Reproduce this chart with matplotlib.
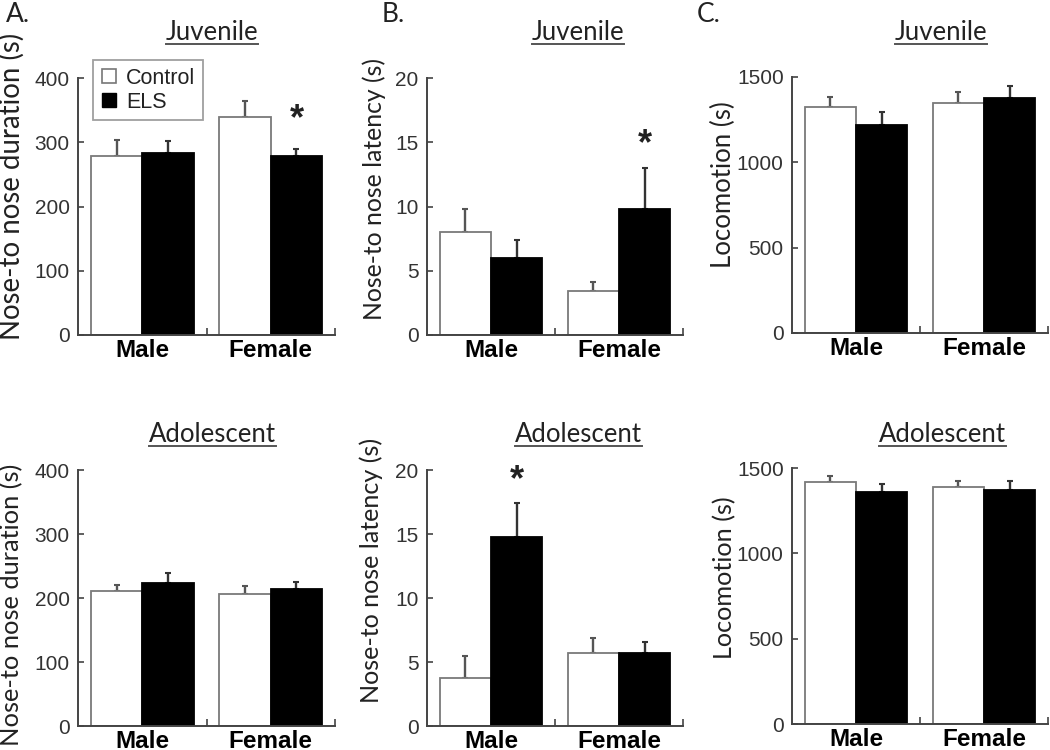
import matplotlib
matplotlib.use("Agg")
import matplotlib.pyplot as plt
from matplotlib.lines import Line2D

# ---- data ----
sexes = ["Male", "Female"]
groups = ["Control", "ELS"]

# Juvenile
dur_juv_ctrl = [278, 339]
dur_juv_ctrl_err = [26, 25]
dur_juv_els = [283, 279]
dur_juv_els_err = [19, 11]

lat_juv_ctrl = [8.0, 3.4]
lat_juv_ctrl_err = [1.77, 0.7]
lat_juv_els = [6.0, 9.84]
lat_juv_els_err = [1.42, 3.16]

loc_juv_ctrl = [1324, 1350]
loc_juv_ctrl_err = [61, 62]
loc_juv_els = [1217, 1379]
loc_juv_els_err = [78, 69]

# Adolescent
dur_ado_ctrl = [211, 206]
dur_ado_ctrl_err = [9, 13]
dur_ado_els = [223, 214]
dur_ado_els_err = [15.5, 11.5]

lat_ado_ctrl = [3.72, 5.68]
lat_ado_ctrl_err = [1.78, 1.17]
lat_ado_els = [14.74, 5.73]
lat_ado_els_err = [2.71, 0.81]

loc_ado_ctrl = [1418, 1387]
loc_ado_ctrl_err = [37, 35]
loc_ado_els = [1359, 1373]
loc_ado_els_err = [49, 49]

# significance stars: (sex index, y value of star centre)
stars_dur_juv = [(1, 351)]
stars_lat_juv = [(1, 15.6)]
stars_lat_ado = [(0, 19.9)]

SANS = "Liberation Sans"
HUMAN = "Lato"
TXT = "#222222"
AXC = "#444444"

fig = plt.figure(figsize=(10.5, 7.5), dpi=100)
W, H = 1050.0, 750.0
ylabels = []  # (label artist, target length in px)


def panel(rect, ctrl, ctrl_err, els, els_err, ymax, yticks, ylabel,
          lab_x, lab_y, lab_len, stars=()):
    l, t, r, b = rect
    ax = fig.add_axes([l / W, 1 - b / H, (r - l) / W, (b - t) / H])
    pos_c = [0.3, 1.3]
    pos_e = [0.7, 1.7]
    ax.bar(pos_c, ctrl, width=0.4, color="white", edgecolor="#7a7a7a", linewidth=1.3, zorder=2)
    ax.bar(pos_e, els, width=0.4, color="black", edgecolor="black", linewidth=1.3, zorder=2)
    ax.errorbar(pos_c, ctrl, yerr=[[0, 0], ctrl_err], fmt="none", ecolor="#555555",
                elinewidth=1.7, capsize=2.5, capthick=1.5, zorder=1)
    ax.errorbar(pos_e, els, yerr=[[0, 0], els_err], fmt="none", ecolor="#333333",
                elinewidth=1.7, capsize=2.5, capthick=1.5, zorder=1)
    for si, yv in stars:
        ax.annotate("*", (pos_e[si], yv), xytext=(0, -7), textcoords="offset points",
                    ha="center", va="center", fontsize=26, fontweight="bold",
                    family=SANS, color=TXT, annotation_clip=False)
    ax.set_xlim(0, 2)
    ax.set_ylim(0, ymax)
    for s in ["top", "right"]:
        ax.spines[s].set_visible(False)
    for s in ["left", "bottom"]:
        ax.spines[s].set_color(AXC)
        ax.spines[s].set_linewidth(1.4)
    ax.set_yticks(yticks)
    ax.set_yticklabels([str(v) for v in yticks], family=SANS, fontsize=15, color="#333333")
    ax.tick_params(axis="y", direction="in", length=4, width=1.2, color=AXC, pad=6)
    ax.set_xticks([0.5, 1.5])
    ax.set_xticklabels(sexes, family=SANS, fontsize=17.5, fontweight="bold", color="black")
    ax.tick_params(axis="x", length=0, pad=3)
    ax.set_xticks([1.0, 2.0], minor=True)
    ax.tick_params(axis="x", which="minor", direction="in", length=5, width=1.2, color=AXC)
    ax.set_ylabel(ylabel, family=HUMAN, fontsize=18, color=TXT)
    ax.yaxis.set_label_coords((lab_x - l) / (r - l), (b - lab_y) / (b - t))
    ylabels.append((ax.yaxis.label, lab_len))
    return ax


ax_a1 = panel((78, 78, 335, 335), dur_juv_ctrl, dur_juv_ctrl_err, dur_juv_els, dur_juv_els_err,
              400, [0, 100, 200, 300, 400], "Nose-to nose duration (s)", 25, 186, 306, stars_dur_juv)
ax_b1 = panel((427, 78, 683, 335), lat_juv_ctrl, lat_juv_ctrl_err, lat_juv_els, lat_juv_els_err,
              20, [0, 5, 10, 15, 20], "Nose-to nose latency (s)", 386, 189, 262, stars_lat_juv)
ax_c1 = panel((792, 77, 1048, 333), loc_juv_ctrl, loc_juv_ctrl_err, loc_juv_els, loc_juv_els_err,
              1500, [0, 500, 1000, 1500], "Locomotion (s)", 736, 185, 166)
ax_a2 = panel((78, 470, 335, 726), dur_ado_ctrl, dur_ado_ctrl_err, dur_ado_els, dur_ado_els_err,
              400, [0, 100, 200, 300, 400], "Nose-to nose duration (s)", 23, 605, 282)
ax_b2 = panel((427, 470, 683, 726), lat_ado_ctrl, lat_ado_ctrl_err, lat_ado_els, lat_ado_els_err,
              20, [0, 5, 10, 15, 20], "Nose-to nose latency (s)", 383, 570, 265, stars_lat_ado)
ax_c2 = panel((792, 468, 1048, 724), loc_ado_ctrl, loc_ado_ctrl_err, loc_ado_els, loc_ado_els_err,
              1500, [0, 500, 1000, 1500], "Locomotion (s)", 736, 578, 163)

# legend in panel A (juvenile)
handles = [
    Line2D([], [], marker="s", linestyle="none", markersize=10, markerfacecolor="white",
           markeredgecolor="#777777", markeredgewidth=1.2),
    Line2D([], [], marker="s", linestyle="none", markersize=10, markerfacecolor="black",
           markeredgecolor="black"),
]
leg = ax_a1.legend(handles, groups, loc="upper left", bbox_to_anchor=(0.058, 1.07),
                   borderaxespad=0, fancybox=False, frameon=True, handlelength=0.8,
                   handletextpad=0.4, labelspacing=0.15, borderpad=0.35,
                   prop={"family": SANS, "size": 15.5})
leg.get_frame().set_edgecolor("#888888")
leg.get_frame().set_linewidth(1.3)
for t in leg.get_texts():
    t.set_color(TXT)

# panel letters
for x, s in [(6, "A."), (382, "B."), (697, "C.")]:
    fig.text(x / W, 1 - 14 / H, s, family=HUMAN, fontsize=19, color=TXT, va="center", ha="left")

# underlined age titles
titles = []
for cx, cy, s in [(212, 32, "Juvenile"), (578, 32, "Juvenile"), (941, 32, "Juvenile"),
                  (212, 435, "Adolescent"), (578, 435, "Adolescent"), (942, 435, "Adolescent")]:
    titles.append(fig.text(cx / W, 1 - cy / H, s, family=HUMAN, fontsize=18.5, color=TXT,
                           ha="center", va="center"))

fig.canvas.draw()
renderer = fig.canvas.get_renderer()

# size the y labels so their length matches the reference
for lab, target in ylabels:
    cur = lab.get_window_extent(renderer).height
    lab.set_fontsize(lab.get_fontsize() * target / cur)

for t in titles:
    bb = t.get_window_extent(renderer).transformed(fig.transFigure.inverted())
    yl = bb.y0 + 1.0 / H
    fig.add_artist(Line2D([bb.x0, bb.x1], [yl, yl], transform=fig.transFigure,
                          color="#555555", linewidth=1.4))

fig.savefig("out.png", dpi=100)
